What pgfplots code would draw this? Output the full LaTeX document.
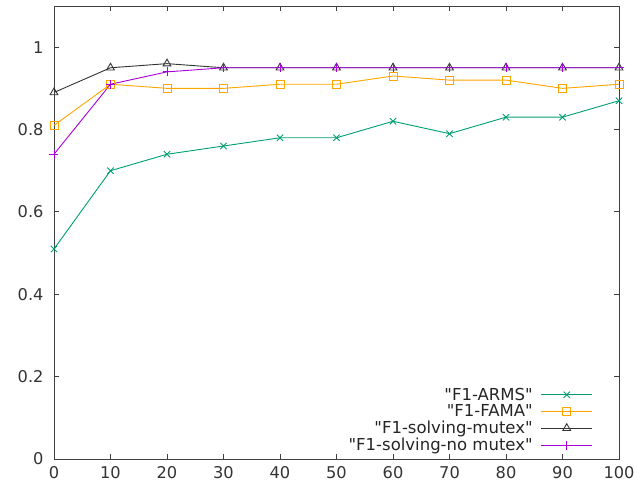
\documentclass[border=0pt]{standalone}
\usepackage{pgfplots}
\pgfplotsset{compat=1.18}
\usepackage{fontspec}
\setmainfont{DejaVu Sans}[Ligatures=TeXOff]
\definecolor{gteal}{HTML}{009E73}
\definecolor{gorange}{HTML}{FFA500}
\definecolor{gpurple}{HTML}{A800DC}
\begin{document}
\begin{tikzpicture}
\begin{axis}[
    scale only axis,
    width=565pt, height=453pt,
    xmin=0, xmax=100, ymin=0, ymax=1.1,
    xtick={0,10,...,100},
    ytick={0,0.2,0.4,0.6,0.8,1},
    tick align=inside,
    major tick length=5pt,
    clip=false,
    axis line style={black!75, line width=0.9pt},
    tick style={black!75, line width=0.9pt},
    /pgf/number format/assume math mode=true,
    tick label style={font=\fontsize{16.2}{19}\selectfont, text=black!80},
    yticklabel style={xshift=-7pt},
    xticklabel style={yshift=-4pt},
    legend plot pos=right,
    legend cell align=right,
    legend style={draw=none, fill=none, inner sep=0pt, at={(rel axis cs:0.954,0.01)}, anchor=south east,
        font=\fontsize{16.5}{18}\selectfont, text=black!85, row sep=-1pt,
        /tikz/every odd column/.append style={column sep=6pt}},
    legend image code/.code={\draw[mark repeat=2, mark phase=2, #1] plot coordinates {(0cm,0cm) (0.9cm,0cm) (1.8cm,0cm)};},
    every axis plot/.append style={line width=0.9pt},
]
\coordinate (ll) at (rel axis cs:0,0);
\coordinate (ur) at (rel axis cs:1,1);
\addplot[color=gteal, mark=x, mark size=4.5pt] coordinates {
    (0,0.51) (10,0.70) (20,0.74) (30,0.76) (40,0.78) (50,0.78)
    (60,0.82) (70,0.79) (80,0.83) (90,0.83) (100,0.87)
};
\addlegendentry{"F1-ARMS"}
\addplot[color=gorange, mark=square, mark size=4pt] coordinates {
    (0,0.81) (10,0.91) (20,0.90) (30,0.90) (40,0.91) (50,0.91)
    (60,0.93) (70,0.92) (80,0.92) (90,0.90) (100,0.91)
};
\addlegendentry{"F1-FAMA"}
\addplot[color=black!80, mark=triangle, mark size=4.5pt] coordinates {
    (0,0.89) (10,0.95) (20,0.96) (30,0.95) (40,0.95) (50,0.95)
    (60,0.95) (70,0.95) (80,0.95) (90,0.95) (100,0.95)
};
\addlegendentry{"F1-solving-mutex"}
\addplot[color=gpurple, mark=+, mark size=4.5pt] coordinates {
    (0,0.74) (10,0.91) (20,0.94) (30,0.95) (40,0.95) (50,0.95)
    (60,0.95) (70,0.95) (80,0.95) (90,0.95) (100,0.95)
};
\addlegendentry{"F1-solving-no mutex"}
\end{axis}
\pgfresetboundingbox
\useasboundingbox ([shift={(-54pt,-27pt)}]ll) rectangle ([shift={(15pt,6pt)}]ur);
\end{tikzpicture}
\end{document}
